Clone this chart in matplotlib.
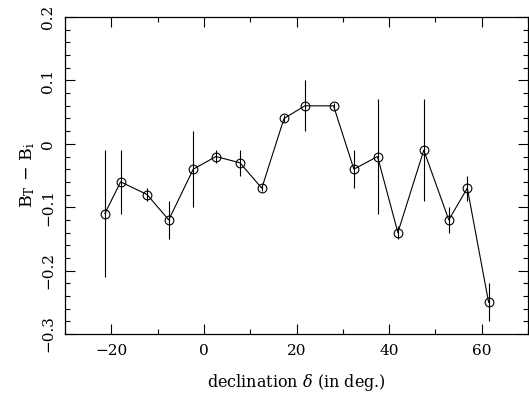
import numpy as np
import matplotlib
matplotlib.use("Agg")
import matplotlib.pyplot as plt
from matplotlib.ticker import MultipleLocator

# declination bins (deg), mean B_T - B_i and its error
dec = [-21.4, -18.0, -12.3, -7.6, -2.3, 2.6, 7.8, 12.5, 17.3, 21.8,
       28.0, 32.4, 37.5, 41.9, 47.5, 52.9, 56.9, 61.5]
dmag = [-0.11, -0.06, -0.08, -0.12, -0.04, -0.02, -0.03, -0.07, 0.04, 0.06,
        0.06, -0.04, -0.02, -0.14, -0.01, -0.12, -0.07, -0.25]
err = [0.10, 0.05, 0.01, 0.03, 0.06, 0.01, 0.02, 0.005, 0.005, 0.04,
       0.005, 0.03, 0.09, 0.01, 0.08, 0.02, 0.02, 0.03]

plt.rcParams['font.family'] = ['DejaVu Serif']
plt.rcParams['mathtext.fontset'] = 'dejavuserif'

fig = plt.figure(figsize=(5.29, 3.98), dpi=100)
ax = fig.add_axes([0.123, 0.161, 0.875, 0.796])

ax.errorbar(dec, dmag, yerr=err, fmt='none', ecolor='black', elinewidth=0.8, capsize=0)
ax.plot(dec, dmag, '-', color='black', lw=0.8, marker='o', ms=6.3,
        mfc='none', mec='black', mew=0.8)

ax.set_xlim(-30, 70)
ax.set_ylim(-0.3, 0.2)
ax.xaxis.set_major_locator(MultipleLocator(20))
ax.xaxis.set_minor_locator(MultipleLocator(10))
ax.yaxis.set_major_locator(MultipleLocator(0.1))
ax.yaxis.set_minor_locator(MultipleLocator(0.02))
ax.tick_params(which='both', direction='in', top=True, right=True, labelsize=11)
ax.tick_params(which='major', length=7, width=0.8, pad=7)
ax.tick_params(which='minor', length=3.5, width=0.8)
ax.yaxis.set_major_formatter(plt.FuncFormatter(lambda v, p: '0' if abs(v) < 1e-9 else f'{v:.1f}'.replace('-', '\u2212')))
ax.xaxis.set_major_formatter(plt.FuncFormatter(lambda v, p: f'{v:.0f}'.replace('-', '\u2212')))
for lab in ax.get_yticklabels():
    lab.set_rotation(90)
    lab.set_va('center')
for s in ax.spines.values():
    s.set_linewidth(0.9)

ax.set_xlabel(r'declination $\delta$ (in deg.)', fontsize=11.5, labelpad=10)
ax.set_ylabel(r'B$_\mathrm{T}$ $-$ B$_\mathrm{i}$', fontsize=12.5, labelpad=3)

fig.savefig('out.png', dpi=100)
